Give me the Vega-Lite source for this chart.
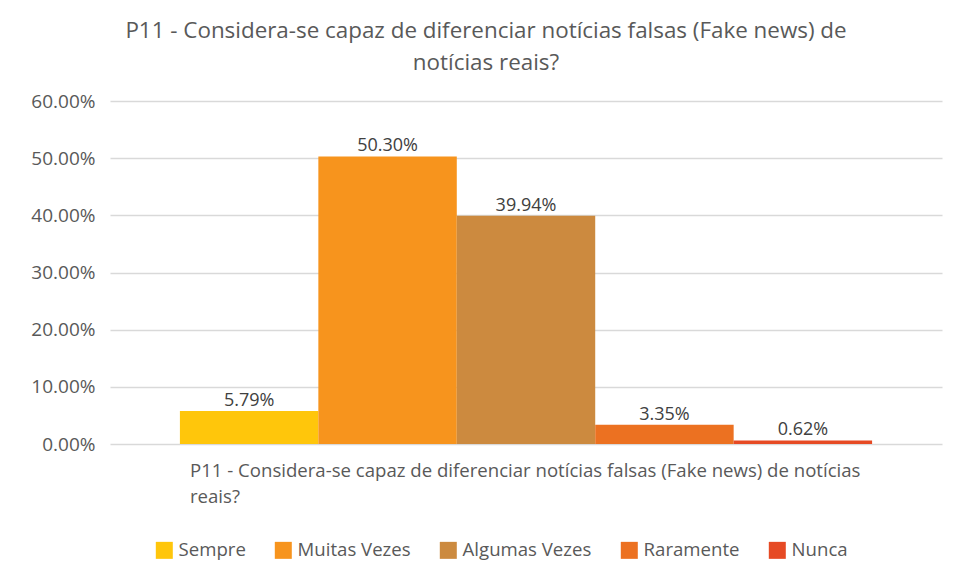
{
  "$schema": "https://vega.github.io/schema/vega-lite/v6.json",
  "width": 832,
  "height": 343,
  "autosize": {"type": "none"},
  "padding": {"left": 110, "top": 101, "right": 14, "bottom": 137},
  "background": "white",
  "title": {
    "text": ["P11 - Considera-se capaz de diferenciar notícias falsas (Fake news) de", "notícias reais?"],
    "anchor": "middle",
    "dx": -40,
    "offset": 18,
    "font": "Open Sans",
    "fontSize": 22.4,
    "fontWeight": "normal",
    "color": "#595959",
    "lineHeight": 32
  },
  "data": {
    "values": [
      {"q": "P11 - Considera-se capaz de diferenciar notícias falsas (Fake news) de notícias|reais?", "cat": "Sempre", "v": 0.0579},
      {"q": "P11 - Considera-se capaz de diferenciar notícias falsas (Fake news) de notícias|reais?", "cat": "Muitas Vezes", "v": 0.5030},
      {"q": "P11 - Considera-se capaz de diferenciar notícias falsas (Fake news) de notícias|reais?", "cat": "Algumas Vezes", "v": 0.3994},
      {"q": "P11 - Considera-se capaz de diferenciar notícias falsas (Fake news) de notícias|reais?", "cat": "Raramente", "v": 0.0335},
      {"q": "P11 - Considera-se capaz de diferenciar notícias falsas (Fake news) de notícias|reais?", "cat": "Nunca", "v": 0.0062}
    ]
  },
  "encoding": {
    "x": {
      "field": "q",
      "type": "nominal",
      "scale": {"paddingInner": 0, "paddingOuter": 0.101},
      "axis": {
        "title": null,
        "domain": false,
        "ticks": false,
        "labelAngle": 0,
        "labelExpr": "split(datum.label, '|')",
        "labelAlign": "left",
        "labelOffset": -336,
        "labelPadding": 17,
        "labelFont": "Open Sans",
        "labelFontSize": 18.6,
        "labelColor": "#595959",
        "labelLineHeight": 26,
        "labelLimit": 1000
      }
    },
    "xOffset": {
      "field": "cat",
      "type": "nominal",
      "sort": ["Sempre", "Muitas Vezes", "Algumas Vezes", "Raramente", "Nunca"],
      "scale": {"paddingInner": 0, "paddingOuter": 0}
    },
    "y": {
      "field": "v",
      "type": "quantitative",
      "scale": {"domain": [0, 0.6]},
      "axis": {
        "title": null,
        "format": ".2%",
        "values": [0, 0.1, 0.2, 0.3, 0.4, 0.5, 0.6],
        "labelOverlap": false,
        "domain": false,
        "ticks": false,
        "grid": true,
        "gridColor": "#d9d9d9",
        "gridWidth": 1.3,
        "labelFont": "Open Sans",
        "labelFontSize": 19,
        "labelColor": "#595959",
        "labelPadding": 15
      }
    }
  },
  "layer": [
    {
      "mark": {"type": "bar"},
      "encoding": {
        "color": {
          "field": "cat",
          "type": "nominal",
          "sort": ["Sempre", "Muitas Vezes", "Algumas Vezes", "Raramente", "Nunca"],
          "scale": {
            "domain": ["Sempre", "Muitas Vezes", "Algumas Vezes", "Raramente", "Nunca"],
            "range": ["#FFC60B", "#F7941D", "#CC8A3F", "#EC7121", "#E64A24"]
          },
          "legend": {
            "title": null,
            "orient": "none",
            "direction": "horizontal",
            "legendX": 45,
            "legendY": 440,
            "symbolType": "square",
            "symbolSize": 289,
            "symbolStrokeWidth": 0,
            "symbolOpacity": 1,
            "labelFont": "Open Sans",
            "labelFontSize": 18.6,
            "labelColor": "#595959",
            "labelOffset": 5,
            "columnPadding": 28
          }
        }
      }
    },
    {
      "mark": {"type": "text", "dy": -10, "font": "Open Sans", "fontSize": 18, "color": "#404040"},
      "encoding": {
        "text": {"field": "v", "type": "quantitative", "format": ".2%"}
      }
    }
  ],
  "config": {"view": {"stroke": null}}
}
